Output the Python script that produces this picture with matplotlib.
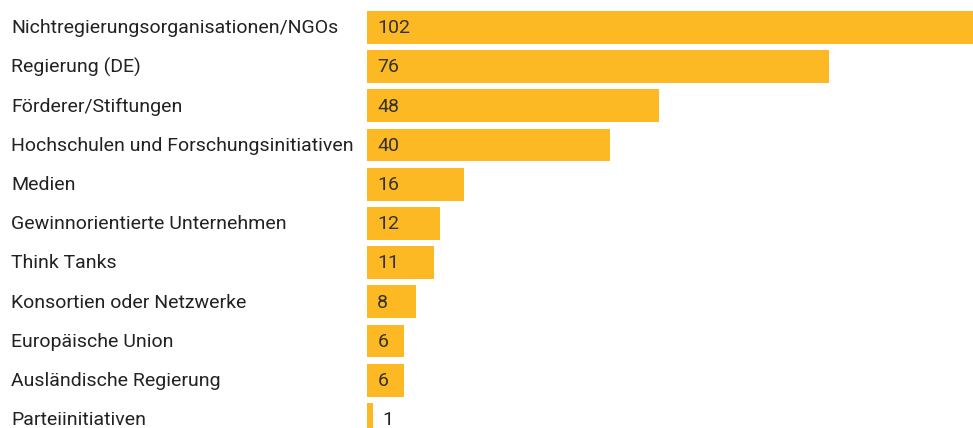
import matplotlib
matplotlib.use('Agg')
from matplotlib import pyplot as plt
from matplotlib.transforms import blended_transform_factory

categories = ['Nichtregierungsorganisationen/NGOs', 'Regierung (DE)', 'Förderer/Stiftungen',
              'Hochschulen und Forschungsinitiativen', 'Medien', 'Gewinnorientierte Unternehmen',
              'Think Tanks', 'Konsortien oder Netzwerke', 'Europäische Union',
              'Ausländische Regierung', 'Parteiinitiativen']
values = [102, 76, 48, 40, 16, 12, 11, 8, 6, 6, 1]

W, H = 973, 428
plt.rcParams['font.family'] = ['Roboto', 'DejaVu Sans']

fig = plt.figure(figsize=(W / 100, H / 100), dpi=100)
# axes: bars start at x=367px, 6.07 px per unit, rows 39.2px apart
x0 = 367.3
ax = fig.add_axes([x0 / W, 0, 1 - x0 / W, 1])
ax.set_xlim(0, (W - x0) / 6.07)
ax.set_ylim((H - 27.4) / 39.2, -27.4 / 39.2)
ax.axis('off')

ypos = list(range(len(values)))
ax.barh(ypos, values, height=0.834, color='#fdb924', edgecolor='none')

lab_tr = blended_transform_factory(fig.transFigure, ax.transData)
for y, cat, v in zip(ypos, categories, values):
    ax.text(11 / W, y + 0.02, cat, transform=lab_tr, ha='left', va='center',
            fontsize=14, color='#222222')
    if v >= 3:
        ax.text(10 / 6.07, y + 0.02, str(v), ha='left', va='center', fontsize=14, color='#333333')
    else:
        ax.text(v + 9 / 6.07, y + 0.02, str(v), ha='left', va='center', fontsize=14, color='#222222')

fig.savefig('out.png', dpi=100)
